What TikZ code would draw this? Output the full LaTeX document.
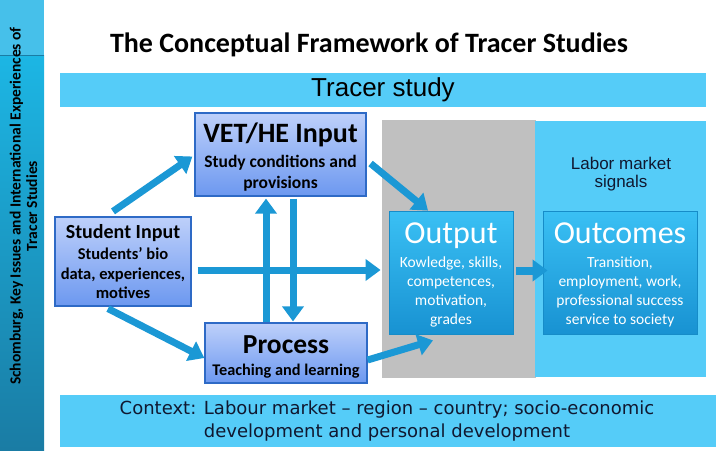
\documentclass[tikz,border=0pt]{standalone}
\usepackage{fontspec}
\setmainfont{Carlito}
\newfontfamily\arialfont{Liberation Sans}
\newfontfamily\verdfont{DejaVu Sans}
\usetikzlibrary{positioning,arrows.meta,calc}
\definecolor{flow}{RGB}{27,152,213}
\definecolor{barbg}{RGB}{85,204,248}
\definecolor{grayzone}{RGB}{192,192,192}
\definecolor{intop}{RGB}{190,208,250}
\definecolor{inbot}{RGB}{108,152,240}
\definecolor{inedge}{RGB}{46,106,198}
\definecolor{outtop}{RGB}{58,192,244}
\definecolor{outbot}{RGB}{24,146,210}
\definecolor{outedge}{RGB}{22,140,200}
\definecolor{sidetop}{RGB}{70,192,234}
\definecolor{sidemid}{RGB}{28,182,228}
\definecolor{sidebot}{RGB}{26,124,164}
\definecolor{navy}{RGB}{16,24,48}
\newcommand{\fsz}[2]{\fontsize{#1}{#2}\selectfont}

\begin{document}
\begin{tikzpicture}[x=1pt,y=-1pt,
  inbox/.style={draw=inedge,line width=1.2pt,top color=intop,bottom color=inbot,align=center,inner sep=2pt},
  outbox/.style={draw=outedge,line width=0.8pt,top color=outtop,bottom color=outbot,align=center,text=white,inner sep=2pt},
  bar/.style={fill=barbg,draw=none},
  ar/.style={-{Triangle[length=15pt,width=21pt]},line width=7pt,flow},
]
  \useasboundingbox (0,0) rectangle (720,450);
  % side strip
  \fill[top color=sidemid,bottom color=sidebot] (0,55) rectangle (44,450);
  \fill[sidetop] (0,0) rectangle (44,55);
  \draw[sidebot,line width=1pt] (0,55) -- (44,55);
  \node[rotate=90,align=center,font=\bfseries\fsz{15.5}{16.5}] (side) at (23.5,206)
    {Schomburg, Key Issues and International Experiences of\\Tracer Studies};
  % title
  \node[font=\bfseries\fsz{28}{30}] (title) at (369,45) {The Conceptual Framework of Tracer Studies};
  % background zones
  \fill[bar] (60,73) rectangle (706,107);
  \node[font=\arialfont\fsz{26}{28}] (tracer) at (383,90) {Tracer study};
  \fill[grayzone] (382,120) rectangle (536,378);
  \fill[barbg] (535,121) rectangle (706,377);
  \node[font=\arialfont\fsz{17}{18},align=center,text=navy] (signals) at (621,174) {Labor market\\signals};
  \fill[bar] (60,395) rectangle (716,447);
  \node[font=\verdfont\fsz{18}{23},align=center,text=navy] (context) at (387,421)
    {Context: Labour market – region – country; socio-economic\\development and personal development};
  % input boxes
  \node[inbox,minimum width=171,minimum height=83,font=\bfseries\fsz{17.5}{21}] (vet) at (280.5,154.5)
    {\rule{0pt}{24pt}{\fsz{28}{30}VET/HE Input}\\[4pt]Study conditions and\\provisions};
  \node[inbox,minimum width=136,minimum height=89,font=\bfseries\fsz{16.5}{19.5}] (stu) at (123,261.5)
    {{\fsz{20}{22}Student Input}\\[2pt]Students' bio\\data, experiences,\\motives};
  \node[inbox,minimum width=162,minimum height=60,font=\bfseries\fsz{16.3}{17}] (proc) at (286,353)
    {\rule{0pt}{26pt}{\fsz{27.5}{30}Process}\\[4.5pt]Teaching and learning};
  % result boxes
  \node[outbox,minimum width=124,minimum height=123,font=\fsz{15.5}{19}] (out) at (451,272.5)
    {\rule{0pt}{26pt}{\fsz{32}{34}Output}\\[5pt]Kowledge, skills,\\competences,\\motivation,\\grades};
  \node[outbox,minimum width=154,minimum height=123,font=\fsz{15.5}{19}] (outc) at (620,272.5)
    {\rule{0pt}{26pt}{\fsz{32}{34}Outcomes}\\[5pt]Transition,\\employment, work,\\professional success\\service to society};
  % arrows
  \draw[ar] ($(stu.north)+(-10,-5)$) -- ($(vet.west)+(-2,2)$);
  \draw[ar] ($(stu.south)+(-15,2)$) -- ($(proc.west)+(0,5)$);
  \draw[ar] ($(vet.east)+(4,9)$) -- ($(out.north)+(-23,0)$);
  \draw[ar] ($(proc.north)+(-20,0)$) -- ($(vet.south)+(-14.5,2)$);
  \draw[ar] ($(vet.south)+(12.5,2)$) -- ($(proc.north)+(7,-1)$);
  \draw[ar] ($(stu.east)+(6,8.5)$) -- ($(out.west)+(-8,-2.5)$);
  \draw[ar] ($(proc.east)+(0,7)$) -- ($(out.south)+(-18,6)$);
  \draw[ar,line width=8pt] ($(out.east)+(3,-2)$) -- ($(outc.west)+(5,-2)$);
\end{tikzpicture}
\end{document}
